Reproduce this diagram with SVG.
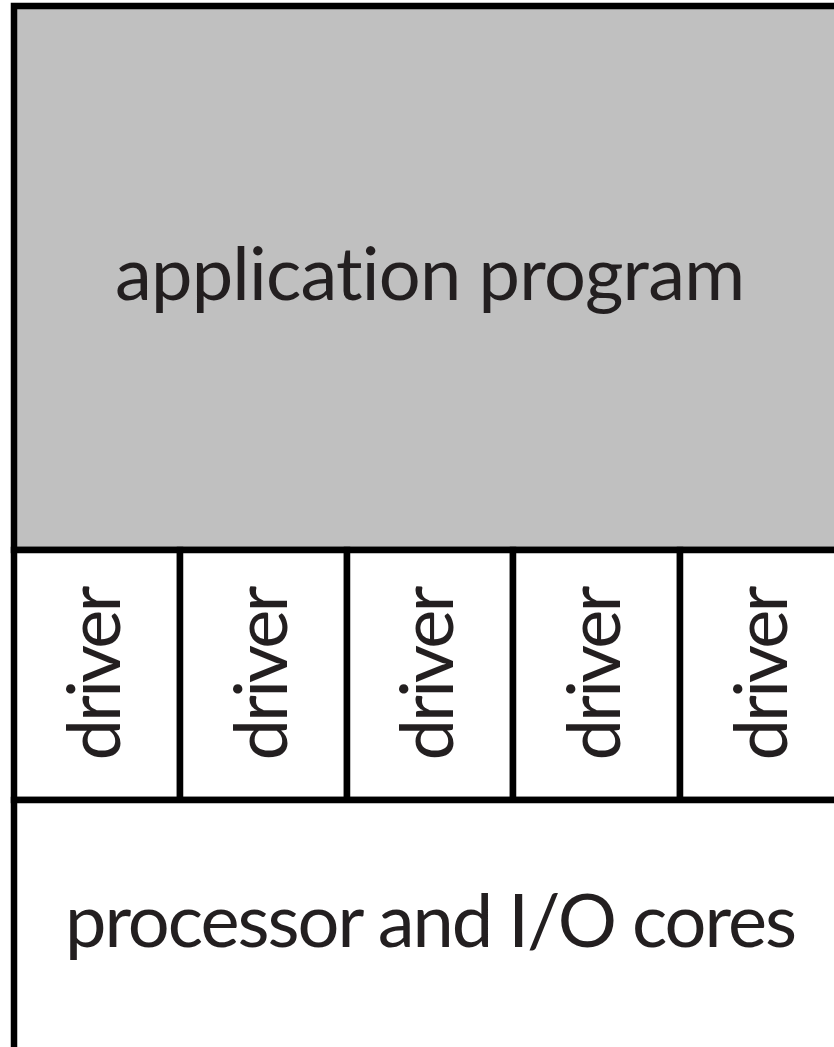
<svg xmlns="http://www.w3.org/2000/svg" width="834" height="1047" viewBox="0 0 834 1047">
<style>
.lbl{font-family:"Source Sans Pro",Lato,"Noto Sans",sans-serif;font-size:74px;fill:#231f20;text-anchor:middle;font-variant-ligatures:none;font-feature-settings:"liga" 0,"dlig" 0}
.box{stroke:#000;stroke-width:6.5}
</style>
<rect width="834" height="1047" fill="#fff"/>
<g id="app">
<rect class="box" x="14" y="6" width="900" height="544" fill="#c0c0c0"/>
<text class="lbl" x="430" y="300" textLength="630">application program</text>
</g>
<g id="drivers">
<g id="driver1"><rect class="box" x="14" y="550" width="166" height="250" fill="#fff"/><text class="lbl" transform="translate(120,673) rotate(-90)" textLength="175">driver</text></g>
<g id="driver2"><rect class="box" x="180" y="550" width="167" height="250" fill="#fff"/><text class="lbl" transform="translate(286.5,673) rotate(-90)" textLength="175">driver</text></g>
<g id="driver3"><rect class="box" x="347" y="550" width="166" height="250" fill="#fff"/><text class="lbl" transform="translate(453,673) rotate(-90)" textLength="175">driver</text></g>
<g id="driver4"><rect class="box" x="513" y="550" width="167" height="250" fill="#fff"/><text class="lbl" transform="translate(619.5,673) rotate(-90)" textLength="175">driver</text></g>
<g id="driver5"><rect class="box" x="680" y="550" width="167" height="250" fill="#fff"/><text class="lbl" transform="translate(786.5,673) rotate(-90)" textLength="175">driver</text></g>
</g>
<g id="cores">
<rect class="box" x="14" y="800" width="900" height="300" fill="#fff"/>
<text class="lbl" x="431" y="947" textLength="732">processor and I/O cores</text>
</g>
<g id="connectors"></g>
</svg>
